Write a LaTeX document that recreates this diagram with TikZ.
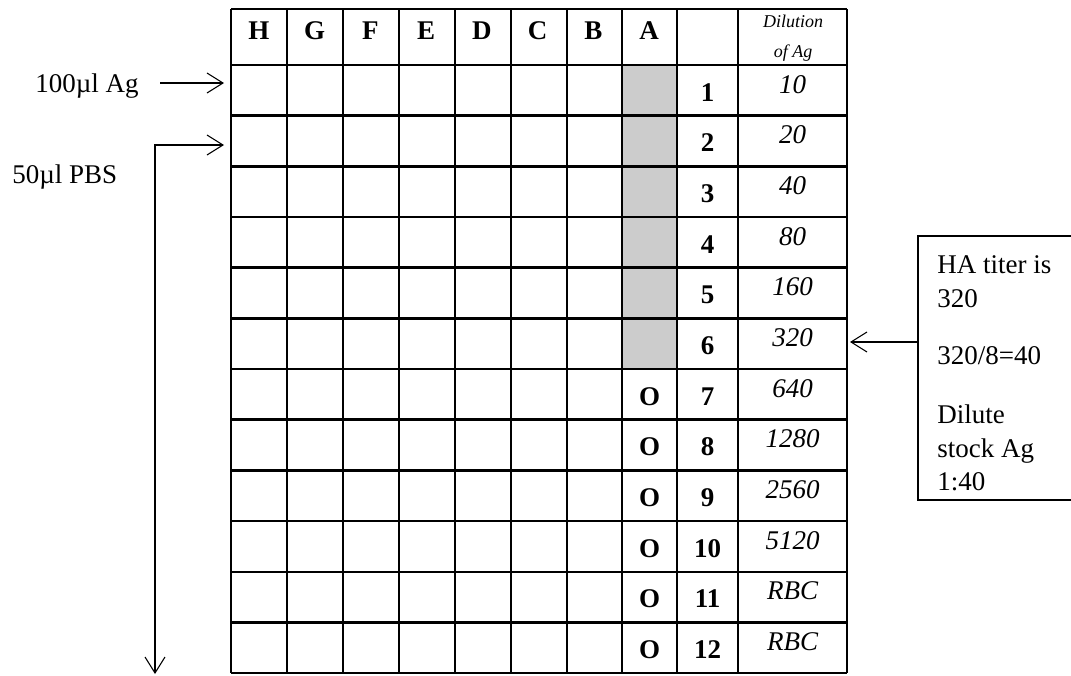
\documentclass[tikz,border=0pt]{standalone}
\usepackage{fontspec}
\setmainfont{Liberation Serif}
\usetikzlibrary{arrows.meta}
\definecolor{wellgray}{RGB}{204,204,204}
\begin{document}
\begin{tikzpicture}[x=0.75pt,y=-0.75pt,
  grid/.style={line width=1.8pt},
  txt/.style={font=\fontsize{20.25}{24}\selectfont, inner sep=0pt, anchor=base},
  bld/.style={txt, font=\fontsize{20.25}{24}\selectfont\bfseries},
  itl/.style={txt, font=\fontsize{20.25}{24}\selectfont\itshape},
  smallit/.style={font=\fontsize{13.5}{16}\selectfont\itshape, inner sep=0pt, anchor=base},
  boxtxt/.style={txt, anchor=base west},
  arr/.style={line width=0.8pt, -{Straight Barb[length=12pt,width=15pt]}},
  darr/.style={line width=0.8pt, {Straight Barb[length=12pt,width=15pt]}-{Straight Barb[length=12pt,width=15pt]}},
]
\useasboundingbox (0,0) rectangle (1071,675);
% shaded wells
\fill[wellgray] (622,65) rectangle (677,369);
% grid
\foreach \x in {231,287,343,399,455,511,567,622,677,738,847}
  \draw[grid] (\x,9) -- (\x,673);
\draw[grid] (231,9) -- (847,9);
\foreach \k in {0,...,12}
  \draw[grid] (231,{65+\k*50.67}) -- (847,{65+\k*50.67});
% header
\foreach \l [count=\i] in {H,G,F,E,D,C,B,A}
  \node[bld] (h\l) at ({231+(\i-0.5)*55.75},39) {\l};
\node[smallit] (dil1) at (793,27) {Dilution};
\node[smallit] (dil2) at (793,57) {of Ag};
% rows
\foreach \n/\d in {1/10,2/20,3/40,4/80,5/160,6/320,7/640,8/1280,9/2560,10/5120,11/RBC,12/RBC}{
  \node[bld] (n\n) at (707.5,{65+(\n-1)*50.67+36}) {\n};
  \node[itl] (d\n) at (792.5,{65+(\n-1)*50.67+28}) {\d};
}
\foreach \n in {7,...,12}
  \node[bld] (o\n) at (649.5,{65+(\n-1)*50.67+36}) {O};
% left labels and arrows
\node[txt, anchor=base west] (ag) at (35,92) {100µl Ag};
\node[txt, anchor=base west] (pbs) at (12,183) {50µl PBS};
\coordinate (a1s) at (160,83);
\coordinate (a1e) at (224,83);
\draw[arr] (a1s) -- (a1e);
\coordinate (a2e) at (224,145);
\coordinate (a2c) at (155,145);
\coordinate (a2d) at (155,674);
\draw[darr] (a2e) -- (a2c) -- (a2d);
% right box
\draw[line width=1pt] (1075,236) -- (918,236) -- (918,500) -- (1075,500);
\node[boxtxt] (t1) at (937,273) {HA titer is};
\node[boxtxt] (t2) at (937,307) {320};
\node[boxtxt] (t3) at (937,364) {320/8=40};
\node[boxtxt] (t4) at (937,423) {Dilute};
\node[boxtxt] (t5) at (937,457) {stock Ag};
\node[boxtxt] (t6) at (937,490) {1:40};
\coordinate (a3s) at (918,342);
\coordinate (a3e) at (850,342);
\draw[arr] (a3s) -- (a3e);
\end{tikzpicture}
\end{document}
